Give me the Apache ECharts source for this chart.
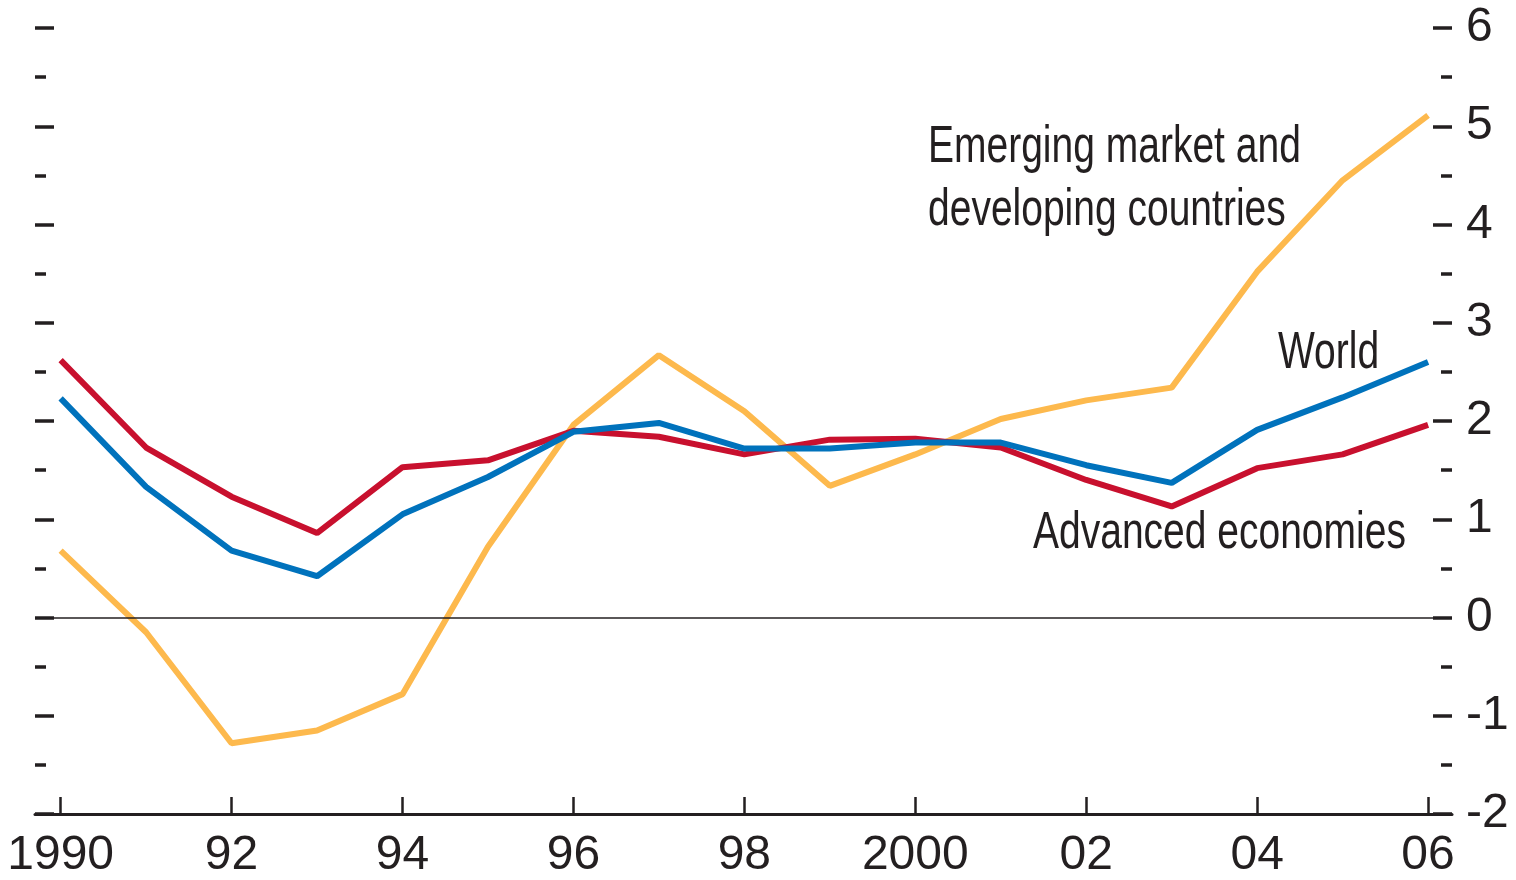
<!DOCTYPE html>
<html>
<head>
  <meta charset="utf-8">
  <title>growth</title>
  <script src="https://cdn.jsdelivr.net/npm/echarts@6/dist/echarts.min.js"></script>
  <style>
    html, body { margin: 0; padding: 0; background: #fff; }
  </style>
</head>
<body>
  <div id="main" style="width:1516px;height:880px;"></div>
  <script type="text/javascript">
    var years = [1990, 1991, 1992, 1993, 1994, 1995, 1996, 1997, 1998,
                 1999, 2000, 2001, 2002, 2003, 2004, 2005, 2006];
    var tickYears = [1990, 1992, 1994, 1996, 1998, 2000, 2002, 2004, 2006];

    var advanced = [2.62, 1.73, 1.23, 0.86, 1.53, 1.60, 1.90, 1.84, 1.66,
                    1.81, 1.82, 1.73, 1.40, 1.13, 1.52, 1.66, 1.96];
    var world = [2.23, 1.33, 0.68, 0.42, 1.05, 1.43, 1.89, 1.98, 1.72,
                 1.72, 1.78, 1.78, 1.55, 1.37, 1.91, 2.24, 2.60];
    var emerging = [0.68, -0.15, -1.28, -1.15, -0.78, 0.72, 1.96, 2.67, 2.10,
                    1.34, 1.66, 2.02, 2.21, 2.34, 3.52, 4.45, 5.11];

    var font = '"Liberation Sans", Arial, sans-serif';
    var ink = '#231f20';

    function pairs(vals) {
      return years.map(function (y, i) { return [y, vals[i]]; });
    }

    var myChart = echarts.init(document.getElementById('main'));

    var yBase = {
      type: 'value',
      min: -2,
      max: 6,
      interval: 1,
      splitLine: { show: false },
      axisLine: { show: false },
      axisTick: { show: true, inside: true, length: 19, lineStyle: { color: ink, width: 3.5 } },
      minorTick: { show: true, splitNumber: 2, length: 11, lineStyle: { color: ink, width: 3.5 } }
    };

    // condensed look for the annotations
    function note(x, y, text) {
      return {
        type: 'text', x: x, y: y, scaleX: 0.75,
        style: {
          text: text, fill: ink, font: '52px ' + font,
          lineHeight: 63, align: 'left', verticalAlign: 'top'
        }
      };
    }

    var option = {
      animation: false,
      grid: { left: 35, right: 64, top: 28, bottom: 65 },
      xAxis: {
        type: 'value',
        min: 1989.7,
        max: 2006.28,
        splitLine: { show: false },
        axisLine: { show: true, onZero: false, lineStyle: { color: ink, width: 3 } },
        axisTick: {
          show: true, inside: true, length: 17,
          customValues: tickYears,
          lineStyle: { color: ink, width: 2.5 }
        },
        axisLabel: {
          customValues: tickYears,
          margin: 18,
          color: ink,
          fontFamily: font,
          fontSize: 48,
          formatter: function (v) {
            if (v === 1990 || v === 2000) return String(v);
            return String(v).slice(2);
          }
        }
      },
      yAxis: [
        Object.assign({}, yBase, {
          position: 'right',
          axisLabel: {
            show: true, margin: 14, color: ink, fontFamily: font, fontSize: 48,
            padding: [8, 0, 0, 0]
          }
        }),
        Object.assign({}, yBase, {
          position: 'left',
          axisLabel: { show: false }
        })
      ],
      series: [
        {
          name: 'Emerging market and developing countries',
          type: 'line',
          data: pairs(emerging),
          showSymbol: false,
          lineStyle: { color: '#fdb94d', width: 6 },
          markLine: {
            silent: true,
            symbol: 'none',
            label: { show: false },
            lineStyle: { color: ink, width: 1.5, type: 'solid' },
            data: [{ yAxis: 0 }]
          }
        },
        {
          name: 'Advanced economies',
          type: 'line',
          data: pairs(advanced),
          showSymbol: false,
          lineStyle: { color: '#c8102e', width: 6 }
        },
        {
          name: 'World',
          type: 'line',
          data: pairs(world),
          showSymbol: false,
          lineStyle: { color: '#0072bc', width: 6 }
        }
      ],
      graphic: [
        note(928, 116, 'Emerging market and\ndeveloping countries'),
        note(1278, 322, 'World'),
        note(1033, 502, 'Advanced economies')
      ]
    };

    myChart.setOption(option);
  </script>
</body>
</html>
